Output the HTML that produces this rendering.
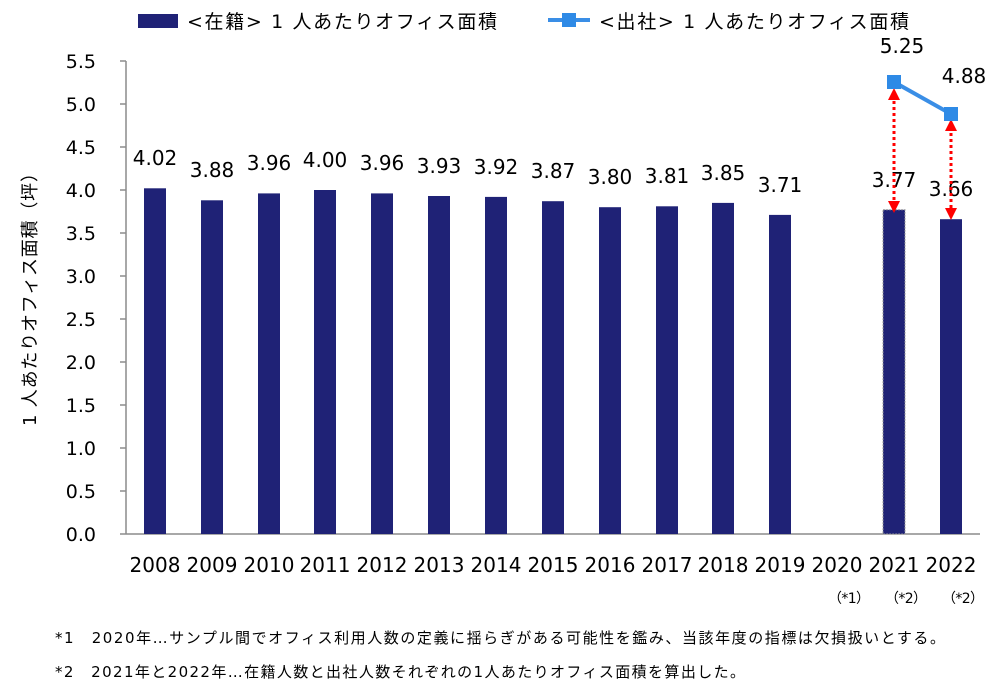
<!DOCTYPE html>
<html><head><meta charset="utf-8"><style>
html,body{margin:0;padding:0;background:#fff;}
svg text{font-family:"DejaVu Sans","Noto Sans CJK JP",sans-serif;fill:#000;}
</style></head><body>
<svg width="1005" height="692" viewBox="0 0 1005 692" xmlns="http://www.w3.org/2000/svg">
<!-- legend -->
<rect x="138" y="14" width="40" height="14" fill="#1f2276"/>
<text x="187" y="28" font-size="19" textLength="310" lengthAdjust="spacing">&lt;在籍&gt; 1 人あたりオフィス面積</text>
<line x1="548" y1="20" x2="590" y2="20" stroke="#3a8ee6" stroke-width="4"/>
<rect x="562" y="13" width="14" height="14" fill="#2e8ae6"/>
<text x="599" y="28" font-size="19" textLength="310" lengthAdjust="spacing">&lt;出社&gt; 1 人あたりオフィス面積</text>
<!-- axis -->
<g stroke="#8c8c8c" stroke-width="1.5">
<line x1="126" y1="61" x2="126" y2="534"/>
<line x1="126" y1="534" x2="980" y2="534"/>
<line x1="120" y1="61" x2="126" y2="61"/><line x1="120" y1="104" x2="126" y2="104"/>
<line x1="120" y1="147" x2="126" y2="147"/><line x1="120" y1="190" x2="126" y2="190"/>
<line x1="120" y1="233" x2="126" y2="233"/><line x1="120" y1="276" x2="126" y2="276"/>
<line x1="120" y1="319" x2="126" y2="319"/><line x1="120" y1="362" x2="126" y2="362"/>
<line x1="120" y1="405" x2="126" y2="405"/><line x1="120" y1="448" x2="126" y2="448"/>
<line x1="120" y1="491" x2="126" y2="491"/><line x1="120" y1="534" x2="126" y2="534"/>
</g>
<g font-size="19" text-anchor="end">
<text x="96" y="68">5.5</text><text x="96" y="111">5.0</text><text x="96" y="154">4.5</text>
<text x="96" y="197">4.0</text><text x="96" y="240">3.5</text><text x="96" y="283">3.0</text>
<text x="96" y="326">2.5</text><text x="96" y="369">2.0</text><text x="96" y="412">1.5</text>
<text x="96" y="455">1.0</text><text x="96" y="498">0.5</text><text x="96" y="541">0.0</text>
</g>
<text transform="translate(36,295) rotate(-90)" font-size="18" text-anchor="middle" textLength="262" lengthAdjust="spacing">1 人あたりオフィス面積（坪）</text>
<!-- bars -->
<g fill="#1f2276">
<rect x="144" y="188.3" width="22" height="345.7"/>
<rect x="201" y="200.3" width="22" height="333.7"/>
<rect x="258" y="193.4" width="22" height="340.6"/>
<rect x="314" y="190" width="22" height="344"/>
<rect x="371" y="193.4" width="22" height="340.6"/>
<rect x="428" y="196" width="22" height="338"/>
<rect x="485" y="196.9" width="22" height="337.1"/>
<rect x="542" y="201.2" width="22" height="332.8"/>
<rect x="599" y="207.2" width="22" height="326.8"/>
<rect x="656" y="206.3" width="22" height="327.7"/>
<rect x="712" y="202.9" width="22" height="331.1"/>
<rect x="769" y="214.9" width="22" height="319.1"/>
<rect x="883" y="209.8" width="22" height="324.2" stroke="#999" stroke-dasharray="2,1" stroke-width="1"/>
<rect x="940" y="219.2" width="22" height="314.8"/>
</g>
<g font-size="20" text-anchor="middle">
<text x="155" y="165">4.02</text><text x="212" y="177">3.88</text><text x="269" y="170">3.96</text>
<text x="325" y="167">4.00</text><text x="382" y="170">3.96</text><text x="439" y="173">3.93</text>
<text x="496" y="174">3.92</text><text x="553" y="178">3.87</text><text x="610" y="184">3.80</text>
<text x="667" y="183">3.81</text><text x="723" y="180">3.85</text><text x="780" y="192">3.71</text>
<text x="894" y="187">3.77</text><text x="951" y="196">3.66</text>
<text x="902" y="53">5.25</text><text x="964" y="83">4.88</text>
</g>
<!-- arrows -->
<g stroke="#ff0000" stroke-width="3" stroke-dasharray="3,3">
<line x1="894" y1="95" x2="894" y2="200"/>
<line x1="951" y1="127" x2="951" y2="210"/>
</g>
<g fill="#ff0000">
<path d="M888,100 L900,100 L894,88 Z"/><path d="M888,201 L900,201 L894,213 Z"/>
<path d="M945,131 L957,131 L951,119 Z"/><path d="M945,208 L957,208 L951,220 Z"/>
</g>
<!-- line -->
<line x1="894" y1="82" x2="951" y2="114" stroke="#3a8ee6" stroke-width="4"/>
<rect x="887" y="75" width="14" height="14" fill="#2e8ae6"/>
<rect x="944" y="107" width="14" height="14" fill="#2e8ae6"/>
<!-- x labels -->
<g font-size="20" text-anchor="middle">
<text x="155" y="572">2008</text><text x="212" y="572">2009</text><text x="269" y="572">2010</text>
<text x="325" y="572">2011</text><text x="382" y="572">2012</text><text x="439" y="572">2013</text>
<text x="496" y="572">2014</text><text x="553" y="572">2015</text><text x="610" y="572">2016</text>
<text x="667" y="572">2017</text><text x="723" y="572">2018</text><text x="780" y="572">2019</text>
<text x="837" y="572">2020</text><text x="894" y="572">2021</text><text x="951" y="572">2022</text>
</g>
<g font-size="14">
<text x="828" y="603" textLength="42" lengthAdjust="spacing">（*1）</text>
<text x="885" y="603" textLength="42" lengthAdjust="spacing">（*2）</text>
<text x="942" y="603" textLength="42" lengthAdjust="spacing">（*2）</text>
</g>
<text x="55" y="643" font-size="15" textLength="890" lengthAdjust="spacing">*1　2020年…サンプル間でオフィス利用人数の定義に揺らぎがある可能性を鑑み、当該年度の指標は欠損扱いとする。</text>
<text x="55" y="677" font-size="15" textLength="690" lengthAdjust="spacing">*2　2021年と2022年…在籍人数と出社人数それぞれの1人あたりオフィス面積を算出した。</text>
</svg>
</body></html>
